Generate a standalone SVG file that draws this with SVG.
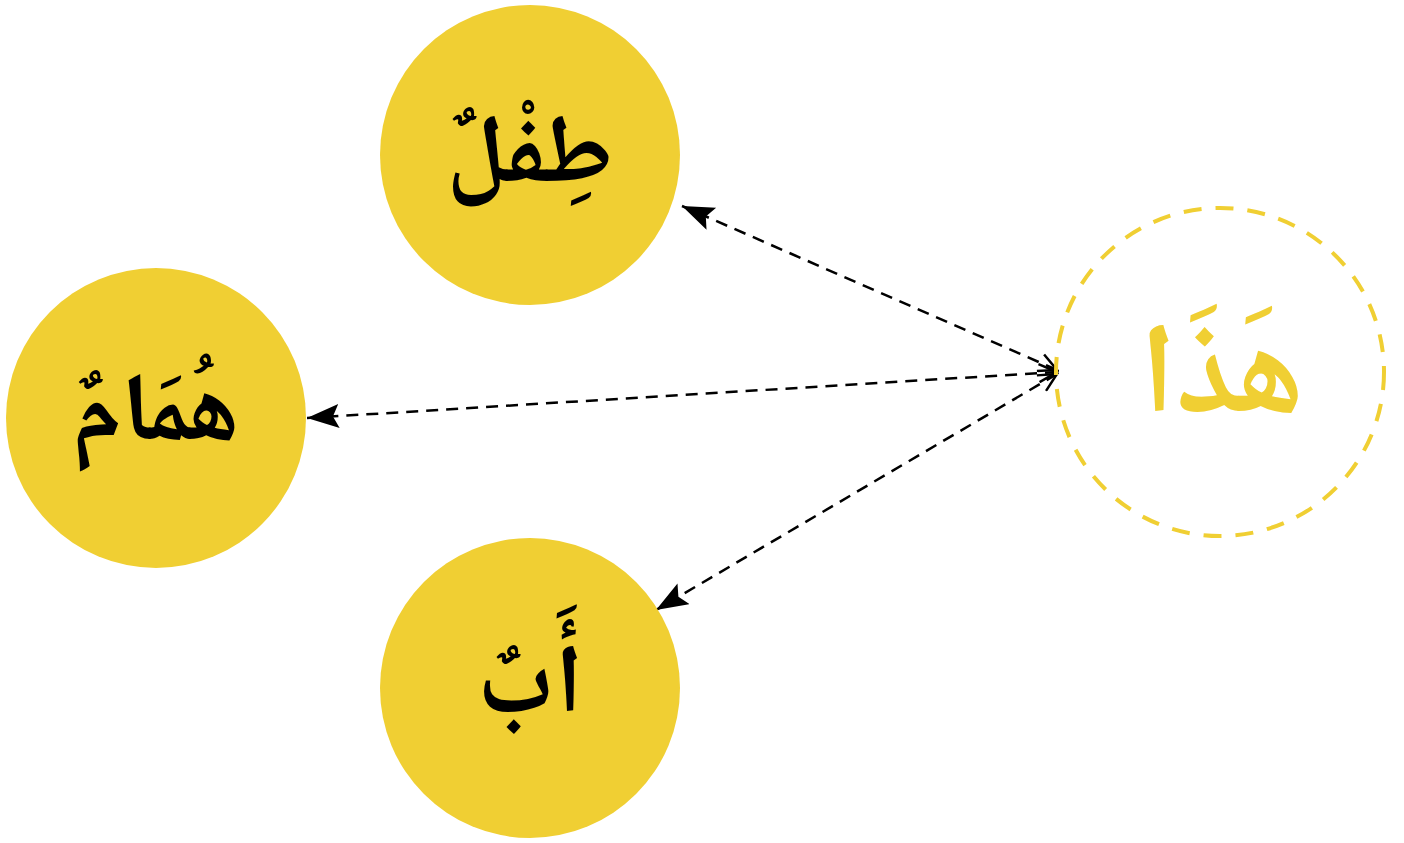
<svg xmlns="http://www.w3.org/2000/svg" width="1404" height="843" viewBox="0 0 1404 843">
<style>
.node{fill:#F0CF33;}
.hub{fill:none;stroke:#F0CF33;stroke-width:4;stroke-dasharray:18 14;}
.lbl{font-family:"Noto Naskh Arabic","Noto Sans Arabic","DejaVu Sans",sans-serif;font-weight:bold;font-size:97px;text-anchor:middle;fill:#000;}
.hublbl{fill:#F0CF33;font-size:128px;}
.edge{fill:none;stroke:#000;stroke-width:2.5;stroke-dasharray:12 8;}
</style>
<defs>
<marker id="head" markerUnits="userSpaceOnUse" markerWidth="40" markerHeight="30" refX="32" refY="12" orient="auto">
<path d="M0,0 L32,12 L0,24 L6,12 Z" fill="#000"/>
</marker>
<marker id="tail" markerUnits="userSpaceOnUse" markerWidth="30" markerHeight="30" refX="2" refY="10" orient="auto">
<path d="M20,1 L2,10 L20,19" fill="none" stroke="#000" stroke-width="2.5"/>
</marker>
</defs>
<rect width="1404" height="843" fill="#fff"/>
<g id="connectors">
<path class="edge" d="M1057,370 L682,206" marker-start="url(#tail)" marker-end="url(#head)"/>
<path class="edge" d="M1057,372 L307,418" marker-start="url(#tail)" marker-end="url(#head)"/>
<path class="edge" d="M1057,374 L656,610" marker-start="url(#tail)" marker-end="url(#head)"/>
</g>
<g id="node-tifl">
<circle class="node" cx="530" cy="155" r="150"/>
<text class="lbl" x="530" y="182">طِفْلٌ</text>
</g>
<g id="node-humam">
<circle class="node" cx="156" cy="418" r="150"/>
<text class="lbl" x="156" y="440">هُمَامٌ</text>
</g>
<g id="node-ab">
<circle class="node" cx="530" cy="688" r="150"/>
<text class="lbl" x="530" y="712">أَبٌ</text>
</g>
<g id="node-hatha">
<circle class="hub" cx="1220" cy="372" r="164"/>
<text class="lbl hublbl" x="1222" y="412">هَذَا</text>
</g>
</svg>
